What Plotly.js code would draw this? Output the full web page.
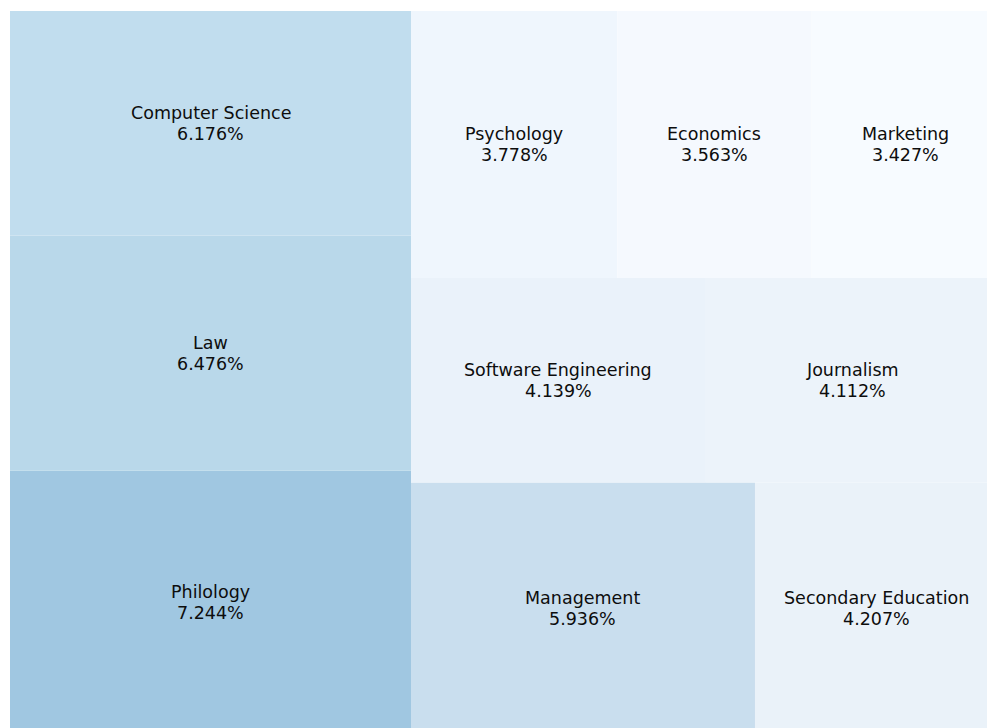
<!DOCTYPE html>
<html>
<head>
<meta charset="utf-8">
<script src="https://cdn.plot.ly/plotly-3.0.1.min.js"></script>
<style>html,body{margin:0;padding:0;background:#fff;}#chart{width:987px;height:728px;}</style>
</head>
<body>
<div id="chart"></div>
<script>
// Data (percent share of students by major)
var categories = ["Philology", "Law", "Computer Science", "Management", "Secondary Education",
                  "Software Engineering", "Journalism", "Psychology", "Economics", "Marketing"];
var values = [7.244, 6.476, 6.176, 5.936, 4.207, 4.139, 4.112, 3.778, 3.563, 3.427];

// Fill colours (style, one per category)
var cellColors = ["#a0c7e1", "#b9d8ea", "#c1ddee", "#c9deee", "#eaf2f9",
                  "#eaf2fa", "#ecf3fa", "#eff6fd", "#f5f9fe", "#f7fbff"];

// Squarify layout (same algorithm as python squarify, in a 100x100 space)
function sum(a){ return a.reduce(function(p,c){return p+c;},0); }
function layoutRow(s, x, y, dx, dy) { var w = sum(s)/dy, r=[];
  s.forEach(function(v){ r.push({x:x,y:y,dx:w,dy:v/w}); y += v/w; }); return r; }
function layoutCol(s, x, y, dx, dy) { var h = sum(s)/dx, r=[];
  s.forEach(function(v){ r.push({x:x,y:y,dx:v/h,dy:h}); x += v/h; }); return r; }
function layout(s,x,y,dx,dy){ return dx>=dy ? layoutRow(s,x,y,dx,dy) : layoutCol(s,x,y,dx,dy); }
function leftover(s,x,y,dx,dy){ var a = sum(s);
  if (dx>=dy) { var w=a/dy; return [x+w,y,dx-w,dy]; } var h=a/dx; return [x,y+h,dx,dy-h]; }
function worst(s,x,y,dx,dy){ return Math.max.apply(null, layout(s,x,y,dx,dy).map(function(r){return Math.max(r.dx/r.dy, r.dy/r.dx);})); }
function squarify(s,x,y,dx,dy){
  if (s.length===0) return [];
  if (s.length===1) return layout(s,x,y,dx,dy);
  var i=1;
  while (i<s.length && worst(s.slice(0,i),x,y,dx,dy) >= worst(s.slice(0,i+1),x,y,dx,dy)) i++;
  var cur=s.slice(0,i), rem=s.slice(i), lo=leftover(cur,x,y,dx,dy);
  return layout(cur,x,y,dx,dy).concat(squarify(rem,lo[0],lo[1],lo[2],lo[3]));
}
var total = sum(values);
var norm = values.map(function(v){ return v*10000/total; });
var rects = squarify(norm, 0, 0, 100, 100);

var cx = rects.map(function(r){return r.x + r.dx/2;});
var cy = rects.map(function(r){return r.y + r.dy/2;});

var cells = {
  type: "bar",
  x: cx,
  width: rects.map(function(r){return r.dx;}),
  base: rects.map(function(r){return r.y;}),
  y: rects.map(function(r){return r.dy;}),
  marker: {color: cellColors, line: {width: 0}},
  hoverinfo: "skip",
  showlegend: false
};

var font = {family: "DejaVu Sans", size: 17.5, color: "#0d0d0d"};
var annotations = [];
categories.forEach(function(c, i){
  annotations.push({x: cx[i], y: cy[i], xref: "x", yref: "y", text: c, showarrow: false,
    xanchor: "center", yanchor: "middle", yshift: 10.5, font: font});
  annotations.push({x: cx[i], y: cy[i], xref: "x", yref: "y", text: values[i].toFixed(3) + "%", showarrow: false,
    xanchor: "center", yanchor: "middle", yshift: -10.5, font: font});
});

var layoutCfg = {
  width: 987, height: 728,
  margin: {l: 10, r: 0, t: 11, b: 0, pad: 0},
  paper_bgcolor: "#ffffff",
  plot_bgcolor: "#ffffff",
  barmode: "overlay",
  xaxis: {range: [0, 98.81], autorange: false, visible: false, fixedrange: true},
  yaxis: {range: [0.83, 100], autorange: false, visible: false, fixedrange: true},
  annotations: annotations,
  showlegend: false
};

Plotly.newPlot("chart", [cells], layoutCfg, {displayModeBar: false, staticPlot: true});
</script>
</body>
</html>
